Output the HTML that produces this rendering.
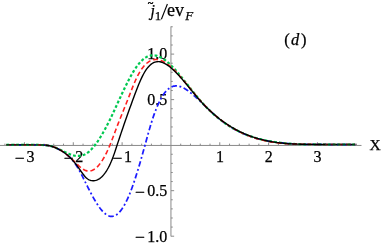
<!DOCTYPE html>
<html><head><meta charset="utf-8"><title>plot</title>
<style>
html,body{margin:0;padding:0;background:#fff;}
svg text{font-family:"Liberation Serif",serif;fill:#000;stroke:#000;stroke-width:0.25px;}
body{width:382px;height:245px;position:relative;overflow:hidden;font-family:"Liberation Serif",serif;}
</style></head><body>
<svg width="382" height="245" viewBox="0 0 382 245" style="position:absolute;left:0;top:0;will-change:transform;filter:blur(0.3px)">
<g stroke="#8a8a8a" stroke-width="1" fill="none">
<line x1="0" y1="145.45" x2="361.5" y2="145.45"/>
<line x1="170.95" y1="26.4" x2="170.95" y2="236.4"/>
<line x1="4.93" y1="145.45" x2="4.93" y2="143.65"/>
<line x1="14.69" y1="145.45" x2="14.69" y2="143.65"/>
<line x1="24.46" y1="145.45" x2="24.46" y2="142.25"/>
<line x1="34.23" y1="145.45" x2="34.23" y2="143.65"/>
<line x1="43.99" y1="145.45" x2="43.99" y2="143.65"/>
<line x1="53.76" y1="145.45" x2="53.76" y2="143.65"/>
<line x1="63.52" y1="145.45" x2="63.52" y2="143.65"/>
<line x1="73.29" y1="145.45" x2="73.29" y2="142.25"/>
<line x1="83.06" y1="145.45" x2="83.06" y2="143.65"/>
<line x1="92.82" y1="145.45" x2="92.82" y2="143.65"/>
<line x1="102.59" y1="145.45" x2="102.59" y2="143.65"/>
<line x1="112.35" y1="145.45" x2="112.35" y2="143.65"/>
<line x1="122.12" y1="145.45" x2="122.12" y2="142.25"/>
<line x1="131.89" y1="145.45" x2="131.89" y2="143.65"/>
<line x1="141.65" y1="145.45" x2="141.65" y2="143.65"/>
<line x1="151.42" y1="145.45" x2="151.42" y2="143.65"/>
<line x1="161.18" y1="145.45" x2="161.18" y2="143.65"/>
<line x1="180.72" y1="145.45" x2="180.72" y2="143.65"/>
<line x1="190.48" y1="145.45" x2="190.48" y2="143.65"/>
<line x1="200.25" y1="145.45" x2="200.25" y2="143.65"/>
<line x1="210.01" y1="145.45" x2="210.01" y2="143.65"/>
<line x1="219.78" y1="145.45" x2="219.78" y2="142.25"/>
<line x1="229.55" y1="145.45" x2="229.55" y2="143.65"/>
<line x1="239.31" y1="145.45" x2="239.31" y2="143.65"/>
<line x1="249.08" y1="145.45" x2="249.08" y2="143.65"/>
<line x1="258.84" y1="145.45" x2="258.84" y2="143.65"/>
<line x1="268.61" y1="145.45" x2="268.61" y2="142.25"/>
<line x1="278.38" y1="145.45" x2="278.38" y2="143.65"/>
<line x1="288.14" y1="145.45" x2="288.14" y2="143.65"/>
<line x1="297.91" y1="145.45" x2="297.91" y2="143.65"/>
<line x1="307.67" y1="145.45" x2="307.67" y2="143.65"/>
<line x1="317.44" y1="145.45" x2="317.44" y2="142.25"/>
<line x1="327.21" y1="145.45" x2="327.21" y2="143.65"/>
<line x1="336.97" y1="145.45" x2="336.97" y2="143.65"/>
<line x1="346.74" y1="145.45" x2="346.74" y2="143.65"/>
<line x1="356.50" y1="145.45" x2="356.50" y2="143.65"/>
<line x1="170.95" y1="236.20" x2="174.15" y2="236.20"/>
<line x1="170.95" y1="227.09" x2="172.75" y2="227.09"/>
<line x1="170.95" y1="217.99" x2="172.75" y2="217.99"/>
<line x1="170.95" y1="208.89" x2="172.75" y2="208.89"/>
<line x1="170.95" y1="199.78" x2="172.75" y2="199.78"/>
<line x1="170.95" y1="190.68" x2="174.15" y2="190.68"/>
<line x1="170.95" y1="181.57" x2="172.75" y2="181.57"/>
<line x1="170.95" y1="172.47" x2="172.75" y2="172.47"/>
<line x1="170.95" y1="163.36" x2="172.75" y2="163.36"/>
<line x1="170.95" y1="154.25" x2="172.75" y2="154.25"/>
<line x1="170.95" y1="136.05" x2="172.75" y2="136.05"/>
<line x1="170.95" y1="126.94" x2="172.75" y2="126.94"/>
<line x1="170.95" y1="117.84" x2="172.75" y2="117.84"/>
<line x1="170.95" y1="108.73" x2="172.75" y2="108.73"/>
<line x1="170.95" y1="99.62" x2="174.15" y2="99.62"/>
<line x1="170.95" y1="90.52" x2="172.75" y2="90.52"/>
<line x1="170.95" y1="81.41" x2="172.75" y2="81.41"/>
<line x1="170.95" y1="72.31" x2="172.75" y2="72.31"/>
<line x1="170.95" y1="63.21" x2="172.75" y2="63.21"/>
<line x1="170.95" y1="54.10" x2="174.15" y2="54.10"/>
<line x1="170.95" y1="45.00" x2="172.75" y2="45.00"/>
<line x1="170.95" y1="35.89" x2="172.75" y2="35.89"/>
<line x1="170.95" y1="26.79" x2="172.75" y2="26.79"/>
</g>
<text y="162.00" font-size="16" ><tspan x="14.86" dy="1.9" font-size="17.6">&#8722;</tspan><tspan x="26.46" dy="-1.9">3</tspan></text>
<text y="162.00" font-size="16" ><tspan x="63.69" dy="1.9" font-size="17.6">&#8722;</tspan><tspan x="75.29" dy="-1.9">2</tspan></text>
<text y="162.00" font-size="16" ><tspan x="112.52" dy="1.9" font-size="17.6">&#8722;</tspan><tspan x="124.12" dy="-1.9">1</tspan></text>
<text x="219.93" y="162.00" font-size="16" text-anchor="middle"  >1</text>
<text x="268.76" y="162.00" font-size="16" text-anchor="middle"  >2</text>
<text x="317.59" y="162.00" font-size="16" text-anchor="middle"  >3</text>
<text x="147.30" y="59.40" font-size="16" text-anchor="start"  >1.0</text>
<text x="147.30" y="104.92" font-size="16" text-anchor="start"  >0.5</text>
<text y="195.98" font-size="16" ><tspan x="135.00" dy="1.9" font-size="17.6">&#8722;</tspan><tspan x="147.30" dy="-1.9">0.5</tspan></text>
<text y="241.50" font-size="16" ><tspan x="135.00" dy="1.9" font-size="17.6">&#8722;</tspan><tspan x="147.30" dy="-1.9">1.0</tspan></text>
<text x="369.60" y="149.60" font-size="15.5" text-anchor="start"  >X</text>
<text y="44.5" font-size="16.5"><tspan x="284.2">(</tspan><tspan x="291" font-style="italic">d</tspan><tspan x="300.9">)</tspan></text>
<text x="150.5" y="16.1" font-size="16" font-style="italic" >j</text>
<text x="147.7" y="6.4" font-size="10.4" style="stroke-width:0.45px">~</text>
<text x="154.85" y="19.8" font-size="13" >1</text>
<line x1="161.4" y1="19.3" x2="167.4" y2="4.0" stroke="#000" stroke-width="1.1"/>
<text x="167.0" y="16.3" font-size="18" >ev</text>
<text x="185.3" y="19.5" font-size="13" font-style="italic" >F</text>
<defs><clipPath id="tails"><rect x="0" y="130" width="46" height="30"/><rect x="325" y="130" width="57" height="30"/></clipPath>
<path id="cb" d="M6.40,144.80 L7.37,144.80 L8.34,144.80 L9.32,144.80 L10.29,144.80 L11.26,144.80 L12.23,144.80 L13.20,144.80 L14.17,144.80 L15.15,144.80 L16.12,144.80 L17.09,144.80 L18.06,144.80 L19.03,144.80 L20.01,144.80 L20.98,144.80 L21.95,144.80 L22.92,144.80 L23.89,144.80 L24.87,144.80 L25.84,144.80 L26.81,144.80 L27.78,144.80 L28.75,144.80 L29.72,144.80 L30.70,144.81 L31.67,144.81 L32.64,144.82 L33.61,144.83 L34.58,144.84 L35.56,144.85 L36.53,144.86 L37.50,144.87 L38.47,144.89 L39.44,144.92 L40.42,144.94 L41.39,144.98 L42.36,145.02 L43.33,145.07 L44.30,145.13 L45.27,145.21 L46.25,145.31 L47.22,145.42 L48.19,145.54 L49.16,145.69 L50.13,145.89 L51.11,146.15 L52.08,146.46 L53.05,146.81 L54.02,147.17 L54.99,147.55 L55.97,147.97 L56.94,148.42 L57.91,148.88 L58.88,149.35 L59.85,149.84 L60.82,150.36 L61.80,150.93 L62.77,151.53 L63.74,152.17 L64.71,152.86 L65.68,153.58 L66.66,154.35 L67.63,155.17 L68.60,156.04 L69.57,156.97 L70.54,157.95 L71.52,159.00 L72.49,160.12 L73.46,161.32 L74.43,162.61 L75.40,163.98 L76.37,165.45 L77.35,167.02 L78.32,168.67 L79.29,170.41 L80.26,172.21 L81.23,174.07 L82.21,175.97 L83.18,177.89 L84.15,179.84 L85.12,181.79 L86.09,183.73 L87.06,185.67 L88.04,187.60 L89.01,189.50 L89.98,191.38 L90.95,193.23 L91.92,195.05 L92.90,196.83 L93.87,198.56 L94.84,200.24 L95.81,201.87 L96.78,203.44 L97.76,204.94 L98.73,206.37 L99.70,207.72 L100.67,209.00 L101.64,210.18 L102.61,211.28 L103.59,212.27 L104.56,213.17 L105.53,213.97 L106.50,214.66 L107.47,215.24 L108.45,215.70 L109.42,216.05 L110.39,216.27 L111.36,216.37 L112.33,216.33 L113.31,216.17 L114.28,215.87 L115.25,215.45 L116.22,214.89 L117.19,214.20 L118.16,213.39 L119.14,212.44 L120.11,211.36 L121.08,210.16 L122.05,208.82 L123.02,207.36 L124.00,205.76 L124.97,204.04 L125.94,202.20 L126.91,200.22 L127.88,198.12 L128.86,195.89 L129.83,193.53 L130.80,191.06 L131.77,188.47 L132.74,185.77 L133.71,182.98 L134.69,180.09 L135.66,177.11 L136.63,174.05 L137.60,170.92 L138.57,167.71 L139.55,164.45 L140.52,161.12 L141.49,157.74 L142.46,154.32 L143.43,150.86 L144.41,147.37 L145.38,143.86 L146.35,140.32 L147.32,136.80 L148.29,133.31 L149.26,129.87 L150.24,126.52 L151.21,123.27 L152.18,120.15 L153.15,117.19 L154.12,114.39 L155.10,111.75 L156.07,109.25 L157.04,106.89 L158.01,104.65 L158.98,102.54 L159.95,100.55 L160.93,98.69 L161.90,96.98 L162.87,95.40 L163.84,93.96 L164.81,92.65 L165.79,91.47 L166.76,90.42 L167.73,89.48 L168.70,88.67 L169.67,87.97 L170.65,87.37 L171.62,86.89 L172.59,86.50 L173.56,86.21 L174.53,86.02 L175.50,85.91 L176.48,85.89 L177.45,85.95 L178.42,86.09 L179.39,86.30 L180.36,86.58 L181.34,86.93 L182.31,87.34 L183.28,87.80 L184.25,88.32 L185.22,88.89 L186.20,89.50 L187.17,90.15 L188.14,90.85 L189.11,91.57 L190.08,92.33 L191.05,93.11 L192.03,93.91 L193.00,94.73 L193.97,95.57 L194.94,96.43 L195.91,97.30 L196.89,98.18 L197.86,99.08 L198.83,99.99 L199.80,100.90 L200.77,101.83 L201.75,102.76 L202.72,103.69 L203.69,104.63 L204.66,105.57 L205.63,106.51 L206.60,107.45 L207.58,108.39 L208.55,109.32 L209.52,110.25 L210.49,111.16 L211.46,112.07 L212.44,112.97 L213.41,113.86 L214.38,114.74 L215.35,115.60 L216.32,116.44 L217.29,117.27 L218.27,118.08 L219.24,118.87 L220.21,119.65 L221.18,120.41 L222.15,121.15 L223.13,121.88 L224.10,122.59 L225.07,123.28 L226.04,123.96 L227.01,124.62 L227.99,125.27 L228.96,125.91 L229.93,126.52 L230.90,127.13 L231.87,127.72 L232.84,128.29 L233.82,128.85 L234.79,129.40 L235.76,129.93 L236.73,130.45 L237.70,130.96 L238.68,131.45 L239.65,131.93 L240.62,132.40 L241.59,132.85 L242.56,133.29 L243.54,133.72 L244.51,134.14 L245.48,134.55 L246.45,134.94 L247.42,135.32 L248.39,135.69 L249.37,136.05 L250.34,136.40 L251.31,136.74 L252.28,137.07 L253.25,137.38 L254.23,137.69 L255.20,137.99 L256.17,138.27 L257.14,138.55 L258.11,138.82 L259.09,139.08 L260.06,139.33 L261.03,139.57 L262.00,139.80 L262.97,140.02 L263.94,140.23 L264.92,140.44 L265.89,140.64 L266.86,140.83 L267.83,141.01 L268.80,141.19 L269.78,141.36 L270.75,141.52 L271.72,141.67 L272.69,141.82 L273.66,141.96 L274.64,142.10 L275.61,142.23 L276.58,142.35 L277.55,142.47 L278.52,142.58 L279.49,142.68 L280.47,142.78 L281.44,142.88 L282.41,142.98 L283.38,143.07 L284.35,143.17 L285.33,143.25 L286.30,143.34 L287.27,143.42 L288.24,143.50 L289.21,143.58 L290.18,143.66 L291.16,143.73 L292.13,143.80 L293.10,143.87 L294.07,143.93 L295.04,143.99 L296.02,144.04 L296.99,144.09 L297.96,144.13 L298.93,144.17 L299.90,144.20 L300.88,144.22 L301.85,144.25 L302.82,144.28 L303.79,144.30 L304.76,144.32 L305.73,144.34 L306.71,144.36 L307.68,144.37 L308.65,144.39 L309.62,144.40 L310.59,144.40 L311.57,144.41 L312.54,144.42 L313.51,144.42 L314.48,144.43 L315.45,144.43 L316.43,144.43 L317.40,144.44 L318.37,144.44 L319.34,144.45 L320.31,144.45 L321.28,144.46 L322.26,144.46 L323.23,144.47 L324.20,144.48 L325.17,144.48 L326.14,144.49 L327.12,144.49 L328.09,144.50 L329.06,144.50 L330.03,144.50 L331.00,144.50 L331.98,144.50 L332.95,144.50 L333.92,144.50 L334.89,144.50 L335.86,144.50 L336.83,144.50 L337.81,144.50 L338.78,144.50 L339.75,144.50 L340.72,144.50 L341.69,144.50 L342.67,144.50 L343.64,144.50 L344.61,144.50 L345.58,144.50 L346.55,144.50 L347.53,144.50 L348.50,144.50 L349.47,144.50 L350.44,144.50 L351.41,144.50 L352.38,144.50 L353.36,144.50 L354.33,144.50 L355.30,144.50" fill="none" stroke="#1c1cff" stroke-width="1.75" stroke-dasharray="5.5 2.55 1.9 2.55"/>
<path id="cg" d="M6.40,144.80 L7.37,144.80 L8.34,144.80 L9.32,144.80 L10.29,144.80 L11.26,144.80 L12.23,144.80 L13.20,144.80 L14.17,144.80 L15.15,144.80 L16.12,144.80 L17.09,144.80 L18.06,144.80 L19.03,144.80 L20.01,144.80 L20.98,144.80 L21.95,144.80 L22.92,144.80 L23.89,144.80 L24.87,144.80 L25.84,144.80 L26.81,144.80 L27.78,144.80 L28.75,144.80 L29.72,144.80 L30.70,144.81 L31.67,144.81 L32.64,144.82 L33.61,144.83 L34.58,144.84 L35.56,144.85 L36.53,144.86 L37.50,144.87 L38.47,144.89 L39.44,144.92 L40.42,144.94 L41.39,144.98 L42.36,145.02 L43.33,145.07 L44.30,145.13 L45.27,145.21 L46.25,145.31 L47.22,145.42 L48.19,145.54 L49.16,145.69 L50.13,145.89 L51.11,146.15 L52.08,146.45 L53.05,146.77 L54.02,147.12 L54.99,147.48 L55.97,147.88 L56.94,148.31 L57.91,148.76 L58.88,149.19 L59.85,149.63 L60.82,150.07 L61.80,150.54 L62.77,151.01 L63.74,151.48 L64.71,151.95 L65.68,152.41 L66.66,152.85 L67.63,153.29 L68.60,153.70 L69.57,154.09 L70.54,154.45 L71.52,154.78 L72.49,155.08 L73.46,155.34 L74.43,155.56 L75.40,155.73 L76.37,155.86 L77.35,155.94 L78.32,155.96 L79.29,155.92 L80.26,155.81 L81.23,155.64 L82.21,155.41 L83.18,155.09 L84.15,154.70 L85.12,154.23 L86.09,153.68 L87.06,153.05 L88.04,152.33 L89.01,151.54 L89.98,150.67 L90.95,149.73 L91.92,148.72 L92.90,147.64 L93.87,146.49 L94.84,145.28 L95.81,144.00 L96.78,142.66 L97.76,141.26 L98.73,139.81 L99.70,138.30 L100.67,136.74 L101.64,135.13 L102.61,133.46 L103.59,131.76 L104.56,130.00 L105.53,128.21 L106.50,126.37 L107.47,124.50 L108.45,122.59 L109.42,120.64 L110.39,118.66 L111.36,116.66 L112.33,114.62 L113.31,112.56 L114.28,110.48 L115.25,108.38 L116.22,106.27 L117.19,104.15 L118.16,102.03 L119.14,99.91 L120.11,97.79 L121.08,95.68 L122.05,93.58 L123.02,91.51 L124.00,89.45 L124.97,87.42 L125.94,85.42 L126.91,83.45 L127.88,81.53 L128.86,79.64 L129.83,77.81 L130.80,76.03 L131.77,74.32 L132.74,72.66 L133.71,71.07 L134.69,69.54 L135.66,68.08 L136.63,66.69 L137.60,65.38 L138.57,64.13 L139.55,62.96 L140.52,61.87 L141.49,60.87 L142.46,59.94 L143.43,59.10 L144.41,58.34 L145.38,57.67 L146.35,57.10 L147.32,56.60 L148.29,56.19 L149.26,55.87 L150.24,55.62 L151.21,55.45 L152.18,55.35 L153.15,55.33 L154.12,55.38 L155.10,55.50 L156.07,55.68 L157.04,55.93 L158.01,56.24 L158.98,56.61 L159.95,57.04 L160.93,57.53 L161.90,58.07 L162.87,58.66 L163.84,59.30 L164.81,59.99 L165.79,60.73 L166.76,61.50 L167.73,62.32 L168.70,63.18 L169.67,64.07 L170.65,65.00 L171.62,65.96 L172.59,66.96 L173.56,67.98 L174.53,69.02 L175.50,70.10 L176.48,71.19 L177.45,72.31 L178.42,73.45 L179.39,74.60 L180.36,75.77 L181.34,76.96 L182.31,78.16 L183.28,79.37 L184.25,80.59 L185.22,81.81 L186.20,83.05 L187.17,84.29 L188.14,85.53 L189.11,86.77 L190.08,88.01 L191.05,89.25 L192.03,90.49 L193.00,91.72 L193.97,92.94 L194.94,94.15 L195.91,95.36 L196.89,96.55 L197.86,97.72 L198.83,98.88 L199.80,100.03 L200.77,101.15 L201.75,102.25 L202.72,103.34 L203.69,104.40 L204.66,105.45 L205.63,106.47 L206.60,107.48 L207.58,108.47 L208.55,109.44 L209.52,110.39 L210.49,111.33 L211.46,112.24 L212.44,113.14 L213.41,114.02 L214.38,114.88 L215.35,115.73 L216.32,116.56 L217.29,117.37 L218.27,118.16 L219.24,118.94 L220.21,119.70 L221.18,120.45 L222.15,121.18 L223.13,121.89 L224.10,122.59 L225.07,123.27 L226.04,123.94 L227.01,124.60 L227.99,125.23 L228.96,125.86 L229.93,126.47 L230.90,127.06 L231.87,127.64 L232.84,128.21 L233.82,128.76 L234.79,129.30 L235.76,129.82 L236.73,130.34 L237.70,130.84 L238.68,131.32 L239.65,131.80 L240.62,132.26 L241.59,132.71 L242.56,133.15 L243.54,133.57 L244.51,133.99 L245.48,134.39 L246.45,134.78 L247.42,135.16 L248.39,135.53 L249.37,135.89 L250.34,136.23 L251.31,136.57 L252.28,136.90 L253.25,137.21 L254.23,137.52 L255.20,137.82 L256.17,138.11 L257.14,138.39 L258.11,138.65 L259.09,138.91 L260.06,139.17 L261.03,139.41 L262.00,139.64 L262.97,139.87 L263.94,140.09 L264.92,140.30 L265.89,140.50 L266.86,140.70 L267.83,140.89 L268.80,141.07 L269.78,141.24 L270.75,141.41 L271.72,141.57 L272.69,141.73 L273.66,141.87 L274.64,142.02 L275.61,142.15 L276.58,142.28 L277.55,142.41 L278.52,142.53 L279.49,142.65 L280.47,142.76 L281.44,142.87 L282.41,142.97 L283.38,143.08 L284.35,143.18 L285.33,143.27 L286.30,143.37 L287.27,143.46 L288.24,143.54 L289.21,143.62 L290.18,143.70 L291.16,143.77 L292.13,143.84 L293.10,143.90 L294.07,143.95 L295.04,144.01 L296.02,144.05 L296.99,144.10 L297.96,144.13 L298.93,144.17 L299.90,144.20 L300.88,144.22 L301.85,144.25 L302.82,144.28 L303.79,144.30 L304.76,144.32 L305.73,144.34 L306.71,144.36 L307.68,144.37 L308.65,144.39 L309.62,144.40 L310.59,144.40 L311.57,144.41 L312.54,144.42 L313.51,144.42 L314.48,144.43 L315.45,144.43 L316.43,144.43 L317.40,144.44 L318.37,144.44 L319.34,144.45 L320.31,144.45 L321.28,144.46 L322.26,144.46 L323.23,144.47 L324.20,144.48 L325.17,144.48 L326.14,144.49 L327.12,144.49 L328.09,144.50 L329.06,144.50 L330.03,144.50 L331.00,144.50 L331.98,144.50 L332.95,144.50 L333.92,144.50 L334.89,144.50 L335.86,144.50 L336.83,144.50 L337.81,144.50 L338.78,144.50 L339.75,144.50 L340.72,144.50 L341.69,144.50 L342.67,144.50 L343.64,144.50 L344.61,144.50 L345.58,144.50 L346.55,144.50 L347.53,144.50 L348.50,144.50 L349.47,144.50 L350.44,144.50 L351.41,144.50 L352.38,144.50 L353.36,144.50 L354.33,144.50 L355.30,144.50" fill="none" stroke="#00c850" stroke-width="2.2" stroke-dasharray="2.8 2.1"/>
<path id="cr" d="M6.40,144.80 L7.37,144.80 L8.34,144.80 L9.32,144.80 L10.29,144.80 L11.26,144.80 L12.23,144.80 L13.20,144.80 L14.17,144.80 L15.15,144.80 L16.12,144.80 L17.09,144.80 L18.06,144.80 L19.03,144.80 L20.01,144.80 L20.98,144.80 L21.95,144.80 L22.92,144.80 L23.89,144.80 L24.87,144.80 L25.84,144.80 L26.81,144.80 L27.78,144.80 L28.75,144.80 L29.72,144.80 L30.70,144.81 L31.67,144.81 L32.64,144.82 L33.61,144.83 L34.58,144.84 L35.56,144.85 L36.53,144.86 L37.50,144.87 L38.47,144.89 L39.44,144.92 L40.42,144.94 L41.39,144.98 L42.36,145.02 L43.33,145.07 L44.30,145.13 L45.27,145.21 L46.25,145.31 L47.22,145.42 L48.19,145.54 L49.16,145.69 L50.13,145.89 L51.11,146.14 L52.08,146.43 L53.05,146.74 L54.02,147.07 L54.99,147.42 L55.97,147.81 L56.94,148.25 L57.91,148.73 L58.88,149.24 L59.85,149.78 L60.82,150.37 L61.80,150.99 L62.77,151.65 L63.74,152.35 L64.71,153.07 L65.68,153.82 L66.66,154.59 L67.63,155.39 L68.60,156.22 L69.57,157.07 L70.54,157.94 L71.52,158.83 L72.49,159.74 L73.46,160.66 L74.43,161.60 L75.40,162.55 L76.37,163.50 L77.35,164.44 L78.32,165.35 L79.29,166.23 L80.26,167.07 L81.23,167.85 L82.21,168.57 L83.18,169.22 L84.15,169.79 L85.12,170.26 L86.09,170.63 L87.06,170.88 L88.04,171.03 L89.01,171.06 L89.98,170.98 L90.95,170.79 L91.92,170.48 L92.90,170.07 L93.87,169.54 L94.84,168.91 L95.81,168.16 L96.78,167.31 L97.76,166.34 L98.73,165.27 L99.70,164.09 L100.67,162.80 L101.64,161.40 L102.61,159.90 L103.59,158.28 L104.56,156.56 L105.53,154.74 L106.50,152.81 L107.47,150.77 L108.45,148.62 L109.42,146.38 L110.39,144.02 L111.36,141.58 L112.33,139.07 L113.31,136.51 L114.28,133.92 L115.25,131.31 L116.22,128.71 L117.19,126.14 L118.16,123.61 L119.14,121.13 L120.11,118.68 L121.08,116.25 L122.05,113.85 L123.02,111.45 L124.00,109.06 L124.97,106.66 L125.94,104.25 L126.91,101.81 L127.88,99.35 L128.86,96.85 L129.83,94.35 L130.80,91.84 L131.77,89.36 L132.74,86.92 L133.71,84.54 L134.69,82.23 L135.66,80.02 L136.63,77.92 L137.60,75.95 L138.57,74.11 L139.55,72.39 L140.52,70.79 L141.49,69.31 L142.46,67.94 L143.43,66.69 L144.41,65.55 L145.38,64.52 L146.35,63.59 L147.32,62.76 L148.29,62.04 L149.26,61.41 L150.24,60.88 L151.21,60.44 L152.18,60.08 L153.15,59.82 L154.12,59.64 L155.10,59.54 L156.07,59.51 L157.04,59.57 L158.01,59.69 L158.98,59.89 L159.95,60.15 L160.93,60.48 L161.90,60.87 L162.87,61.32 L163.84,61.83 L164.81,62.39 L165.79,63.00 L166.76,63.67 L167.73,64.37 L168.70,65.12 L169.67,65.92 L170.65,66.75 L171.62,67.61 L172.59,68.51 L173.56,69.44 L174.53,70.40 L175.50,71.38 L176.48,72.40 L177.45,73.43 L178.42,74.49 L179.39,75.57 L180.36,76.67 L181.34,77.79 L182.31,78.93 L183.28,80.07 L184.25,81.23 L185.22,82.40 L186.20,83.58 L187.17,84.77 L188.14,85.96 L189.11,87.15 L190.08,88.35 L191.05,89.54 L192.03,90.74 L193.00,91.93 L193.97,93.11 L194.94,94.29 L195.91,95.46 L196.89,96.62 L197.86,97.76 L198.83,98.90 L199.80,100.01 L200.77,101.11 L201.75,102.19 L202.72,103.26 L203.69,104.30 L204.66,105.33 L205.63,106.34 L206.60,107.33 L207.58,108.31 L208.55,109.27 L209.52,110.21 L210.49,111.13 L211.46,112.04 L212.44,112.93 L213.41,113.81 L214.38,114.66 L215.35,115.51 L216.32,116.33 L217.29,117.15 L218.27,117.94 L219.24,118.72 L220.21,119.49 L221.18,120.23 L222.15,120.97 L223.13,121.69 L224.10,122.39 L225.07,123.08 L226.04,123.76 L227.01,124.42 L227.99,125.07 L228.96,125.70 L229.93,126.32 L230.90,126.93 L231.87,127.52 L232.84,128.10 L233.82,128.67 L234.79,129.22 L235.76,129.76 L236.73,130.29 L237.70,130.80 L238.68,131.30 L239.65,131.79 L240.62,132.27 L241.59,132.73 L242.56,133.19 L243.54,133.63 L244.51,134.06 L245.48,134.48 L246.45,134.89 L247.42,135.28 L248.39,135.67 L249.37,136.04 L250.34,136.41 L251.31,136.76 L252.28,137.10 L253.25,137.44 L254.23,137.76 L255.20,138.07 L256.17,138.38 L257.14,138.67 L258.11,138.95 L259.09,139.23 L260.06,139.49 L261.03,139.75 L262.00,140.00 L262.97,140.23 L263.94,140.46 L264.92,140.69 L265.89,140.90 L266.86,141.10 L267.83,141.30 L268.80,141.49 L269.78,141.67 L270.75,141.85 L271.72,142.01 L272.69,142.17 L273.66,142.32 L274.64,142.47 L275.61,142.61 L276.58,142.74 L277.55,142.86 L278.52,142.98 L279.49,143.10 L280.47,143.20 L281.44,143.30 L282.41,143.39 L283.38,143.47 L284.35,143.54 L285.33,143.61 L286.30,143.67 L287.27,143.73 L288.24,143.77 L289.21,143.82 L290.18,143.86 L291.16,143.90 L292.13,143.94 L293.10,143.97 L294.07,144.01 L295.04,144.04 L296.02,144.08 L296.99,144.11 L297.96,144.14 L298.93,144.17 L299.90,144.20 L300.88,144.22 L301.85,144.25 L302.82,144.28 L303.79,144.30 L304.76,144.32 L305.73,144.34 L306.71,144.36 L307.68,144.37 L308.65,144.39 L309.62,144.40 L310.59,144.40 L311.57,144.41 L312.54,144.42 L313.51,144.42 L314.48,144.43 L315.45,144.43 L316.43,144.43 L317.40,144.44 L318.37,144.44 L319.34,144.45 L320.31,144.45 L321.28,144.46 L322.26,144.46 L323.23,144.47 L324.20,144.48 L325.17,144.48 L326.14,144.49 L327.12,144.49 L328.09,144.50 L329.06,144.50 L330.03,144.50 L331.00,144.50 L331.98,144.50 L332.95,144.50 L333.92,144.50 L334.89,144.50 L335.86,144.50 L336.83,144.50 L337.81,144.50 L338.78,144.50 L339.75,144.50 L340.72,144.50 L341.69,144.50 L342.67,144.50 L343.64,144.50 L344.61,144.50 L345.58,144.50 L346.55,144.50 L347.53,144.50 L348.50,144.50 L349.47,144.50 L350.44,144.50 L351.41,144.50 L352.38,144.50 L353.36,144.50 L354.33,144.50 L355.30,144.50" fill="none" stroke="#ff2020" stroke-width="1.6" stroke-dasharray="4.8 2.9"/>
</defs>
<use href="#cb"/><use href="#cg"/><use href="#cr"/>
<path d="M6.40,144.80 L7.37,144.80 L8.34,144.80 L9.32,144.80 L10.29,144.80 L11.26,144.80 L12.23,144.80 L13.20,144.80 L14.17,144.80 L15.15,144.80 L16.12,144.80 L17.09,144.80 L18.06,144.80 L19.03,144.80 L20.01,144.80 L20.98,144.80 L21.95,144.80 L22.92,144.80 L23.89,144.80 L24.87,144.80 L25.84,144.80 L26.81,144.80 L27.78,144.80 L28.75,144.80 L29.72,144.80 L30.70,144.81 L31.67,144.81 L32.64,144.82 L33.61,144.83 L34.58,144.84 L35.56,144.85 L36.53,144.86 L37.50,144.87 L38.47,144.89 L39.44,144.92 L40.42,144.94 L41.39,144.98 L42.36,145.02 L43.33,145.07 L44.30,145.13 L45.27,145.21 L46.25,145.31 L47.22,145.42 L48.19,145.54 L49.16,145.69 L50.13,145.89 L51.11,146.15 L52.08,146.45 L53.05,146.78 L54.02,147.14 L54.99,147.51 L55.97,147.92 L56.94,148.38 L57.91,148.85 L58.88,149.34 L59.85,149.86 L60.82,150.41 L61.80,151.00 L62.77,151.62 L63.74,152.29 L64.71,152.99 L65.68,153.73 L66.66,154.51 L67.63,155.33 L68.60,156.20 L69.57,157.11 L70.54,158.06 L71.52,159.06 L72.49,160.10 L73.46,161.19 L74.43,162.33 L75.40,163.52 L76.37,164.76 L77.35,166.05 L78.32,167.39 L79.29,168.78 L80.26,170.19 L81.23,171.59 L82.21,172.97 L83.18,174.29 L84.15,175.54 L85.12,176.68 L86.09,177.70 L87.06,178.57 L88.04,179.27 L89.01,179.79 L89.98,180.18 L90.95,180.45 L91.92,180.62 L92.90,180.71 L93.87,180.70 L94.84,180.60 L95.81,180.40 L96.78,180.10 L97.76,179.69 L98.73,179.18 L99.70,178.56 L100.67,177.82 L101.64,176.97 L102.61,176.00 L103.59,174.90 L104.56,173.68 L105.53,172.34 L106.50,170.86 L107.47,169.24 L108.45,167.49 L109.42,165.58 L110.39,163.52 L111.36,161.30 L112.33,158.91 L113.31,156.35 L114.28,153.62 L115.25,150.75 L116.22,147.81 L117.19,144.84 L118.16,141.89 L119.14,138.96 L120.11,136.04 L121.08,133.15 L122.05,130.28 L123.02,127.42 L124.00,124.60 L124.97,121.79 L125.94,119.01 L126.91,116.26 L127.88,113.52 L128.86,110.80 L129.83,108.10 L130.80,105.41 L131.77,102.74 L132.74,100.08 L133.71,97.44 L134.69,94.82 L135.66,92.24 L136.63,89.70 L137.60,87.22 L138.57,84.81 L139.55,82.49 L140.52,80.26 L141.49,78.13 L142.46,76.12 L143.43,74.24 L144.41,72.49 L145.38,70.90 L146.35,69.44 L147.32,68.13 L148.29,66.95 L149.26,65.90 L150.24,64.97 L151.21,64.17 L152.18,63.49 L153.15,62.92 L154.12,62.46 L155.10,62.10 L156.07,61.85 L157.04,61.70 L158.01,61.64 L158.98,61.67 L159.95,61.78 L160.93,61.98 L161.90,62.26 L162.87,62.61 L163.84,63.02 L164.81,63.51 L165.79,64.06 L166.76,64.66 L167.73,65.32 L168.70,66.02 L169.67,66.77 L170.65,67.57 L171.62,68.40 L172.59,69.26 L173.56,70.16 L174.53,71.09 L175.50,72.04 L176.48,73.03 L177.45,74.04 L178.42,75.07 L179.39,76.13 L180.36,77.21 L181.34,78.30 L182.31,79.41 L183.28,80.54 L184.25,81.68 L185.22,82.83 L186.20,83.99 L187.17,85.16 L188.14,86.33 L189.11,87.51 L190.08,88.69 L191.05,89.87 L192.03,91.05 L193.00,92.22 L193.97,93.40 L194.94,94.56 L195.91,95.72 L196.89,96.86 L197.86,98.00 L198.83,99.12 L199.80,100.22 L200.77,101.31 L201.75,102.37 L202.72,103.42 L203.69,104.46 L204.66,105.47 L205.63,106.47 L206.60,107.45 L207.58,108.41 L208.55,109.36 L209.52,110.29 L210.49,111.20 L211.46,112.09 L212.44,112.97 L213.41,113.84 L214.38,114.68 L215.35,115.51 L216.32,116.33 L217.29,117.13 L218.27,117.91 L219.24,118.68 L220.21,119.43 L221.18,120.17 L222.15,120.90 L223.13,121.60 L224.10,122.30 L225.07,122.98 L226.04,123.64 L227.01,124.29 L227.99,124.93 L228.96,125.56 L229.93,126.17 L230.90,126.76 L231.87,127.35 L232.84,127.92 L233.82,128.47 L234.79,129.02 L235.76,129.55 L236.73,130.07 L237.70,130.57 L238.68,131.07 L239.65,131.55 L240.62,132.02 L241.59,132.48 L242.56,132.93 L243.54,133.36 L244.51,133.79 L245.48,134.20 L246.45,134.60 L247.42,134.99 L248.39,135.37 L249.37,135.74 L250.34,136.10 L251.31,136.45 L252.28,136.79 L253.25,137.12 L254.23,137.44 L255.20,137.75 L256.17,138.05 L257.14,138.34 L258.11,138.63 L259.09,138.90 L260.06,139.16 L261.03,139.42 L262.00,139.67 L262.97,139.91 L263.94,140.14 L264.92,140.36 L265.89,140.57 L266.86,140.78 L267.83,140.98 L268.80,141.17 L269.78,141.36 L270.75,141.54 L271.72,141.71 L272.69,141.87 L273.66,142.03 L274.64,142.18 L275.61,142.33 L276.58,142.46 L277.55,142.60 L278.52,142.72 L279.49,142.84 L280.47,142.96 L281.44,143.07 L282.41,143.17 L283.38,143.27 L284.35,143.37 L285.33,143.45 L286.30,143.53 L287.27,143.61 L288.24,143.68 L289.21,143.74 L290.18,143.80 L291.16,143.85 L292.13,143.90 L293.10,143.95 L294.07,143.99 L295.04,144.03 L296.02,144.07 L296.99,144.11 L297.96,144.14 L298.93,144.17 L299.90,144.20 L300.88,144.22 L301.85,144.25 L302.82,144.28 L303.79,144.30 L304.76,144.32 L305.73,144.34 L306.71,144.36 L307.68,144.37 L308.65,144.39 L309.62,144.40 L310.59,144.40 L311.57,144.41 L312.54,144.42 L313.51,144.42 L314.48,144.43 L315.45,144.43 L316.43,144.43 L317.40,144.44 L318.37,144.44 L319.34,144.45 L320.31,144.45 L321.28,144.46 L322.26,144.46 L323.23,144.47 L324.20,144.48 L325.17,144.48 L326.14,144.49 L327.12,144.49 L328.09,144.50 L329.06,144.50 L330.03,144.50 L331.00,144.50 L331.98,144.50 L332.95,144.50 L333.92,144.50 L334.89,144.50 L335.86,144.50 L336.83,144.50 L337.81,144.50 L338.78,144.50 L339.75,144.50 L340.72,144.50 L341.69,144.50 L342.67,144.50 L343.64,144.50 L344.61,144.50 L345.58,144.50 L346.55,144.50 L347.53,144.50 L348.50,144.50 L349.47,144.50 L350.44,144.50 L351.41,144.50 L352.38,144.50 L353.36,144.50 L354.33,144.50 L355.30,144.50" fill="none" stroke="#000" stroke-width="1.4"/>
<g clip-path="url(#tails)" opacity="0.35"><use href="#cb"/><use href="#cr"/><use href="#cg"/></g>
</svg>
</body></html>
